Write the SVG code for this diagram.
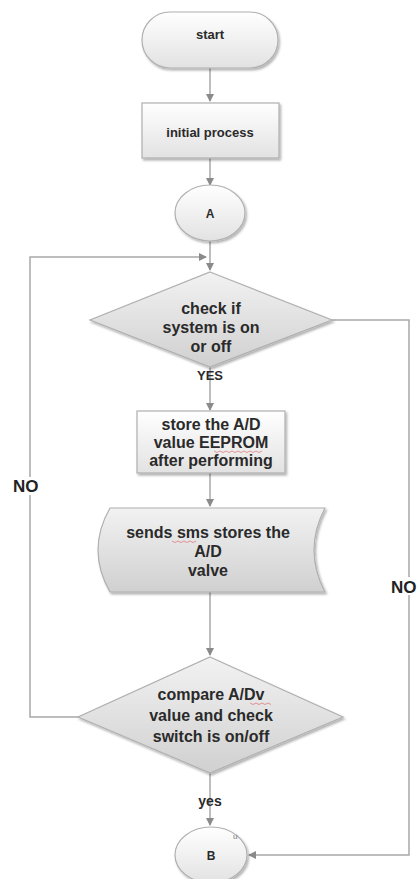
<svg xmlns="http://www.w3.org/2000/svg" width="417" height="879" viewBox="0 0 417 879">
<style>
.shape{stroke:#b0b0b0;stroke-width:1.2}
.lt{fill:url(#gLight)}
.dk{fill:url(#gDark)}
.t{font-family:"Liberation Sans",Arial,sans-serif;font-weight:bold;fill:#2a2a2a;text-anchor:middle}
.s{font-size:16px}
.m{font-size:13px}
.c{fill:none;stroke:#a8a8a8;stroke-width:1.5}
.lbl{font-family:"Liberation Sans",Arial,sans-serif;font-weight:bold;fill:#222;font-size:17px}
.sq{fill:none;stroke:#e06060;stroke-width:0.9;opacity:0.7}
</style>
<defs>
<linearGradient id="gLight" x1="0" y1="0" x2="0" y2="1">
<stop offset="0" stop-color="#ffffff"/><stop offset="1" stop-color="#e2e2e2"/>
</linearGradient>
<linearGradient id="gDark" x1="0" y1="0" x2="0" y2="1">
<stop offset="0" stop-color="#f2f2f2"/><stop offset="1" stop-color="#d0d0d0"/>
</linearGradient>
<filter id="sh" x="-10%" y="-10%" width="125%" height="130%">
<feDropShadow dx="1.5" dy="2" stdDeviation="1.3" flood-color="#000" flood-opacity="0.3"/>
</filter>
<marker id="ah" markerWidth="8" markerHeight="8" refX="7" refY="4" orient="auto" markerUnits="userSpaceOnUse">
<path d="M0,0 L8,4 L0,8 Z" fill="#8a8a8a"/>
</marker>
</defs>
<rect width="417" height="879" fill="#fff"/>

<g id="connectors">
<path class="c" d="M210,68 V101" marker-end="url(#ah)"/>
<path class="c" d="M210,158 V185" marker-end="url(#ah)"/>
<path class="c" d="M210,241 V270" marker-end="url(#ah)"/>
<path class="c" d="M88,717 H30 V257 H206" marker-end="url(#ah)"/>
<path class="c" d="M332,320 H409 V855 H249" marker-end="url(#ah)"/>
<path class="c" d="M210,367 V410" marker-end="url(#ah)"/>
<path class="c" d="M210,473 V506" marker-end="url(#ah)"/>
<path class="c" d="M210,592 V655" marker-end="url(#ah)"/>
<path class="c" d="M210,773 V825" marker-end="url(#ah)"/>
<rect x="12" y="477" width="32" height="18" fill="#fff"/>
<text class="lbl" x="13" y="492">NO</text>
<rect x="390" y="577" width="27" height="18" fill="#fff"/>
<text class="lbl" x="391" y="593">NO</text>
<text class="t m" x="210" y="380">YES</text>
<text class="t" x="210" y="806" font-size="14" font-weight="normal" fill="#444">yes</text>
</g>

<g id="start">
<rect class="shape lt" x="142" y="12" width="136" height="56" rx="28" filter="url(#sh)"/>
<text class="t m" x="210" y="39">start</text>
</g>

<g id="initial">
<rect class="shape lt" x="142" y="103" width="137" height="55" filter="url(#sh)"/>
<text class="t m" x="210" y="137">initial process</text>
</g>

<g id="A">
<ellipse class="shape lt" cx="210" cy="213" rx="35" ry="28" filter="url(#sh)"/>
<text class="t" x="210" y="218" font-size="12">A</text>
</g>

<g id="check">
<polygon class="shape dk" points="210,272 332,320 210,367 90,320" filter="url(#sh)"/>
<text class="t s" x="211" y="314">check if</text>
<text class="t s" x="211" y="333">system is on</text>
<text class="t s" x="211" y="352">or off</text>
</g>

<g id="store">
<rect class="shape lt" x="137" y="411" width="148" height="62" filter="url(#sh)"/>
<text class="t s" x="211" y="430">store the A/D</text>
<text class="t s" x="211" y="448">value EEPROM</text>
<text class="t s" x="211" y="466">after performing</text>
<path class="sq" d="M214,451 l3,1.5 l3,-1.5 l3,1.5 l3,-1.5 l3,1.5 l3,-1.5 l3,1.5 l3,-1.5 l3,1.5 l3,-1.5 l3,1.5 l3,-1.5 l3,1.5 l3,-1.5 l3,1.5 l3,-1.5"/>
</g>

<g id="sends">
<path class="shape dk" d="M110,508 L325,508 Q303,550 325,592 L110,592 Q86,550 110,508 Z" filter="url(#sh)"/>
<text class="t s" x="208" y="538">sends sms stores the</text>
<text class="t s" x="208" y="557">A/D</text>
<text class="t s" x="208" y="576">valve</text>
<path class="sq" d="M172,541 l3,1.5 l3,-1.5 l3,1.5 l3,-1.5 l3,1.5 l3,-1.5 l3,1.5 l3,-1.5"/>
</g>

<g id="compare">
<polygon class="shape dk" points="210,657 343,717 210,773 78,717" filter="url(#sh)"/>
<text class="t s" x="211" y="700">compare A/Dv</text>
<text class="t s" x="211" y="721">value and check</text>
<text class="t s" x="211" y="742">switch is on/off</text>
<path class="sq" d="M250,703 l3,1.5 l3,-1.5 l3,1.5 l3,-1.5 l3,1.5 l3,-1.5 l3,1.5"/>
</g>

<g id="B">
<ellipse class="shape lt" cx="211" cy="855" rx="36" ry="28" filter="url(#sh)"/>
<text class="t" x="211" y="860" font-size="12">B</text>
<text x="233" y="839" font-family="Liberation Sans,sans-serif" font-size="8" fill="#777">u</text>
</g>
</svg>
